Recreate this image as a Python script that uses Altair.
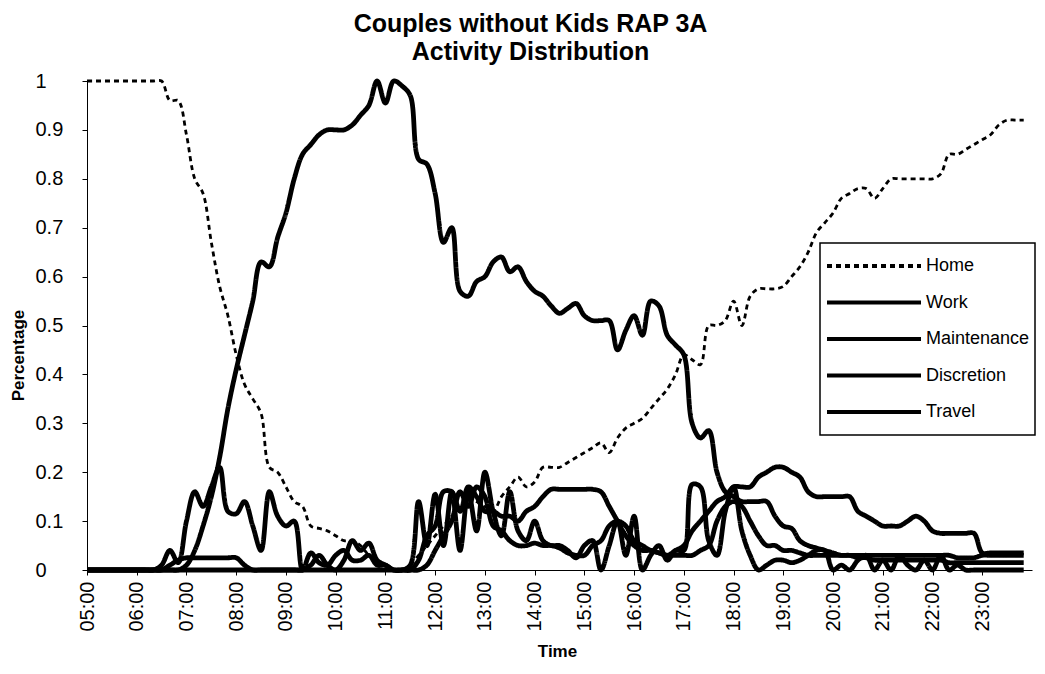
import altair as alt
import pandas as pd

FONT = "Liberation Sans"

series_names = ["Home", "Work", "Maintenance", "Discretion", "Travel"]

# 10-minute time grid, 05:00 .. 23:50 (hours)
hours = [5 + i / 6 for i in range(114)]

home = [
    1.0, 1.0, 1.0, 1.0, 1.0, 1.0,          # 05
    1.0, 1.0, 1.0, 1.0, 0.96, 0.96,        # 06
    0.89, 0.80, 0.77, 0.67, 0.58, 0.52,    # 07
    0.44, 0.38, 0.35, 0.32, 0.21, 0.20,    # 08
    0.17, 0.14, 0.13, 0.09, 0.085, 0.08,   # 09
    0.07, 0.06, 0.06, 0.05, 0.03, 0.02,    # 10
    0.01, 0.0, 0.0, 0.01, 0.03, 0.05,      # 11
    0.07, 0.09, 0.11, 0.13, 0.15, 0.14,    # 12
    0.13, 0.12, 0.15, 0.17, 0.19, 0.17,    # 13
    0.18, 0.21, 0.21, 0.21, 0.22, 0.23,    # 14
    0.24, 0.25, 0.26, 0.24, 0.27, 0.29,    # 15
    0.30, 0.31, 0.33, 0.35, 0.37, 0.40,    # 16
    0.44, 0.43, 0.42, 0.50, 0.50, 0.51,    # 17
    0.55, 0.50, 0.56, 0.575, 0.575, 0.575, # 18
    0.58, 0.60, 0.62, 0.65, 0.69, 0.71,    # 19
    0.73, 0.76, 0.77, 0.78, 0.78, 0.76,    # 20
    0.78, 0.80, 0.80, 0.80, 0.80, 0.80,    # 21
    0.80, 0.81, 0.85, 0.85, 0.86, 0.87,    # 22
    0.88, 0.89, 0.91, 0.92, 0.92, 0.92,    # 23
]

work = [
    0, 0, 0, 0, 0, 0,                      # 05
    0, 0, 0, 0, 0, 0,                      # 06
    0.01, 0.04, 0.09, 0.15, 0.23, 0.33,    # 07
    0.41, 0.48, 0.55, 0.63, 0.62, 0.68,    # 08
    0.73, 0.80, 0.85, 0.87, 0.89, 0.90,    # 09
    0.90, 0.90, 0.91, 0.93, 0.95, 1.0,     # 10
    0.955, 1.0, 0.99, 0.97, 0.84, 0.83,    # 11
    0.77, 0.67, 0.70, 0.57, 0.56, 0.59,    # 12
    0.60, 0.63, 0.64, 0.61, 0.62, 0.59,    # 13
    0.57, 0.56, 0.54, 0.525, 0.535, 0.545, # 14
    0.52, 0.51, 0.51, 0.51, 0.45, 0.49,    # 15
    0.52, 0.48, 0.55, 0.54, 0.48, 0.46,    # 16
    0.44, 0.30, 0.27, 0.285, 0.20, 0.16,   # 17
    0.15, 0.14, 0.14, 0.14, 0.14, 0.11,    # 18
    0.09, 0.085, 0.06, 0.05, 0.045, 0.04,  # 19
    0.035, 0.03, 0.03, 0.025, 0.025, 0.02, # 20
    0.02, 0.02, 0.02, 0.02, 0.02, 0.02,    # 21
    0.02, 0.02, 0.015, 0.015, 0.015, 0.015,# 22
    0.015, 0.015, 0.015, 0.015, 0.015, 0.015, # 23
]

maintenance = [
    0, 0, 0, 0, 0, 0,                      # 05
    0, 0, 0, 0, 0.01, 0.02,                # 06
    0.025, 0.025, 0.025, 0.025, 0.025, 0.025, # 07
    0.025, 0.01, 0, 0, 0, 0,               # 08
    0, 0, 0, 0, 0, 0,                      # 09
    0, 0, 0, 0, 0, 0,                      # 10
    0, 0, 0, 0, 0.02, 0.07,                # 11
    0.09, 0.16, 0.16, 0.12, 0.17, 0.15,    # 12
    0.12, 0.12, 0.11, 0.11, 0.10, 0.12,    # 13
    0.13, 0.15, 0.165, 0.165, 0.165, 0.165,# 14
    0.165, 0.165, 0.16, 0.13, 0.10, 0.07,  # 15
    0.05, 0.04, 0.04, 0.035, 0.03, 0.03,   # 16
    0.03, 0.03, 0.04, 0.05, 0.10, 0.13,    # 17
    0.14, 0.13, 0.10, 0.07, 0.05, 0.05,    # 18
    0.04, 0.04, 0.035, 0.03, 0.03, 0.03,   # 19
    0.03, 0.03, 0.03, 0.03, 0.03, 0.03,    # 20
    0.03, 0.03, 0.03, 0.03, 0.03, 0.03,    # 21
    0.03, 0.03, 0.03, 0.025, 0.025, 0.025, # 22
    0.03, 0.03, 0.03, 0.03, 0.03, 0.03,    # 23
]

discretion = [
    0, 0, 0, 0, 0, 0,                      # 05
    0, 0, 0, 0, 0, 0,                      # 06
    0, 0, 0, 0, 0, 0,                      # 07
    0, 0, 0, 0, 0, 0,                      # 08
    0, 0, 0, 0.01, 0.03, 0.01,             # 09
    0.0, 0.02, 0.06, 0.04, 0.055, 0.02,    # 10
    0.01, 0.0, 0.0, 0.0, 0.0, 0.01,        # 11
    0.04, 0.07, 0.10, 0.16, 0.13, 0.17,    # 12
    0.15, 0.09, 0.08, 0.06, 0.05, 0.05,    # 13
    0.055, 0.05, 0.05, 0.045, 0.035, 0.03, # 14
    0.03, 0.05, 0.06, 0.09, 0.10, 0.09,    # 15
    0.06, 0.05, 0.04, 0.035, 0.03, 0.04,   # 16
    0.05, 0.08, 0.10, 0.12, 0.14, 0.15,    # 17
    0.17, 0.17, 0.17, 0.19, 0.20, 0.21,    # 18
    0.21, 0.20, 0.19, 0.16, 0.15, 0.15,    # 19
    0.15, 0.15, 0.15, 0.12, 0.11, 0.10,    # 20
    0.09, 0.09, 0.09, 0.10, 0.11, 0.10,    # 21
    0.08, 0.075, 0.075, 0.075, 0.075, 0.075, # 22
    0.035, 0.035, 0.035, 0.035, 0.035, 0.035, # 23
]

travel = [
    0, 0, 0, 0, 0, 0,                      # 05
    0, 0, 0, 0.01, 0.04, 0.015,            # 06
    0.10, 0.16, 0.13, 0.17, 0.21, 0.12,    # 07
    0.115, 0.14, 0.09, 0.04, 0.16, 0.11,   # 08
    0.09, 0.10, 0.0, 0.035, 0.015, 0.01,   # 09
    0.03, 0.04, 0.02, 0.02, 0.03, 0.01,    # 10
    0.01, 0.0, 0.0, 0.01, 0.14, 0.05,      # 11
    0.155, 0.05, 0.16, 0.04, 0.16, 0.08,   # 12
    0.20, 0.12, 0.07, 0.16, 0.08, 0.06,    # 13
    0.10, 0.06, 0.05, 0.05, 0.04, 0.025,   # 14
    0.05, 0.06, 0.0, 0.05, 0.10, 0.03,     # 15
    0.11, 0.0, 0.03, 0.05, 0.02, 0.04,     # 16
    0.04, 0.175, 0.17, 0.06, 0.03, 0.12,   # 17
    0.17, 0.08, 0.03, 0.0, 0.01, 0.02,     # 18
    0.02, 0.015, 0.02, 0.03, 0.04, 0.04,   # 19
    0.0, 0.01, 0.0, 0.02, 0.03, 0.0,       # 20
    0.02, 0.0, 0.03, 0.01, 0.0, 0.02,      # 21
    0.0, 0.03, 0.0, 0.01, 0.0, 0.0,        # 22
    0.0, 0.0, 0.0, 0.0, 0.0, 0.0,          # 23
]

hour_ticks = list(range(5, 24))
y_ticks = [0, 0.1, 0.2, 0.3, 0.4, 0.5, 0.6, 0.7, 0.8, 0.9, 1.0]

rows = []
for name, vals in zip(series_names, [home, work, maintenance, discretion, travel]):
    for h, v in zip(hours, vals):
        rows.append({"hour": h, "value": v, "series": name})
df = pd.DataFrame(rows)

legend = alt.Legend(
    title=None,
    orient="none",
    legendX=733,
    legendY=162,
    direction="vertical",
    symbolType="stroke",
    symbolSize=8836,
    symbolStrokeWidth=4,
    symbolStrokeColor="black",
    clipHeight=36,
    rowPadding=0.5,
    padding=5,
    labelFont=FONT,
    labelFontSize=18,
    labelColor="black",
    labelOffset=3,
    labelLimit=300,
    strokeColor="black",
    fillColor="white",
)

x = alt.X(
    "hour:Q",
    scale=alt.Scale(domain=[5, 24], nice=False, zero=False),
    axis=alt.Axis(
        values=hour_ticks,
        labelExpr="(datum.value < 10 ? '0' : '') + datum.value + ':00'",
        labelAngle=270,
        labelAlign="right",
        labelBaseline="middle",
        labelFlush=False,
        labelOverlap=False,
        labelFont=FONT,
        labelFontSize=20,
        labelPadding=6,
        tickSize=5,
        title="Time",
        titleFont=FONT,
        titleFontSize=17,
        titleFontWeight="bold",
        titleX=470,
        titleY=86,
        titleAlign="center",
        titleBaseline="alphabetic",
        grid=False,
    ),
)
y = alt.Y(
    "value:Q",
    scale=alt.Scale(domain=[0, 1], nice=False, zero=True),
    axis=alt.Axis(
        values=y_ticks,
        labelExpr="format(datum.value, '.1~f')",
        labelFlush=False,
        labelAlign="left",
        labelFont=FONT,
        labelFontSize=20,
        labelPadding=47,
        tickSize=5,
        title="Percentage",
        titleFont=FONT,
        titleFontSize=17,
        titleFontWeight="bold",
        titleX=-69,
        titleY=274,
        titleAngle=270,
        titleAlign="center",
        titleBaseline="middle",
        grid=False,
    ),
)
dash = alt.StrokeDash(
    "series:N",
    scale=alt.Scale(domain=series_names, range=[[5, 4], [1, 0], [1, 0], [1, 0], [1, 0]]),
    legend=legend,
)

base = alt.Chart(df).encode(x=x, y=y, strokeDash=dash, detail="series:N")

home_layer = base.transform_filter(alt.datum.series == "Home").mark_line(
    color="black", strokeWidth=2.8, interpolate="catmull-rom"
)
other_layer = base.transform_filter(alt.datum.series != "Home").mark_line(
    color="black", strokeWidth=4.8, interpolate="catmull-rom", strokeJoin="round"
)

chart = (
    alt.layer(home_layer, other_layer)
    .properties(
        width=945,
        height=489,
        autosize=alt.AutoSizeParams(type="none"),
        padding={"left": 79, "top": 73, "right": 5, "bottom": 94},
        background="white",
        title=alt.TitleParams(
            text=["Couples without Kids RAP 3A", "Activity Distribution"],
            font=FONT,
            fontSize=25,
            fontWeight="bold",
            anchor="middle",
            frame="group",
            dx=-29,
            lineHeight=28,
            offset=6,
            color="black",
        ),
    )
    .configure_view(strokeWidth=0)
    .configure_axis(domainColor="black", tickColor="black", labelColor="black", titleColor="black")
    .configure_legend(strokeWidth=1.5)
)

chart.save("out.html", embed_options={"renderer": "svg", "actions": False})
